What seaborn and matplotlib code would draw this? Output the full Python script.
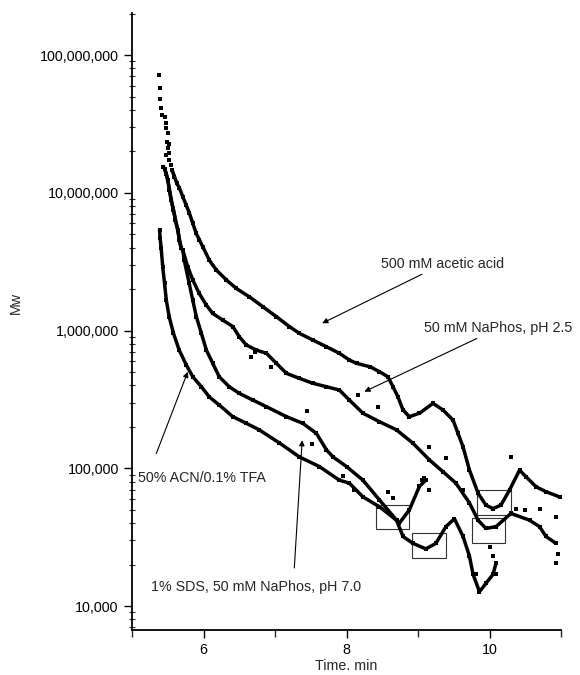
import numpy as np
import pandas as pd
import seaborn as sns
import matplotlib.pyplot as plt
from matplotlib.patches import Rectangle
from matplotlib.ticker import FuncFormatter, LogLocator, MultipleLocator

# values (time in min, Mw in g/mol)
acetic_time = [5.375, 5.385, 5.394, 5.408, 5.422, 5.459, 5.469, 5.478, 5.497, 5.492, 5.515, 5.501,
               5.524, 5.478, 5.515, 5.548, 5.562, 5.594, 5.627, 5.664, 5.711, 5.758, 5.804, 5.850,
               5.898, 5.944, 5.990, 6.08, 6.18, 6.32, 6.46, 6.64, 6.83, 7.02, 7.20, 7.34, 7.53,
               7.72, 7.90, 8.04, 8.14, 8.33, 8.46, 8.58, 8.65, 8.72, 8.79, 8.88, 9.02, 9.21, 9.35,
               9.49, 9.56, 9.63, 9.72, 9.84, 9.95, 10.05, 10.16, 10.28, 10.42, 10.51, 10.65, 10.79, 10.98]
acetic_mw = [71.6e6, 57.3e6, 47.6e6, 41.0e6, 36.7e6, 35.6e6, 31.9e6, 29.4e6, 27.0e6, 23.5e6, 22.6e6, 21.0e6,
             19.3e6, 18.8e6, 17.3e6, 15.9e6, 14.6e6, 13.1e6, 11.7e6, 10.8e6, 9.35e6, 8.14e6, 7.09e6, 6.0e6,
             5.08e6, 4.54e6, 4.06e6, 3.25e6, 2.75e6, 2.33e6, 2.02e6, 1.76e6, 1.49e6, 1.26e6, 1.07e6, 955e3, 853e3,
             763e3, 684e3, 611e3, 578e3, 546e3, 503e3, 462e3, 391e3, 330e3, 265e3, 237e3, 251e3, 296e3, 265e3,
             224e3, 179e3, 143e3, 97e3, 66e3, 54e3, 51e3, 54e3, 69.5e3, 97e3, 86.9e3, 73.5e3, 67.6e3, 62e3]

naphos25_time = [5.43, 5.455, 5.478, 5.50, 5.524, 5.548, 5.58, 5.608, 5.64, 5.664, 5.688, 5.71, 5.78,
                 5.85, 5.94, 6.04, 6.13, 6.27, 6.41, 6.50, 6.60, 6.74, 6.88, 7.02, 7.16, 7.34, 7.53,
                 7.72, 7.90, 8.04, 8.23, 8.46, 8.70, 8.93, 9.16, 9.35, 9.53, 9.72, 9.84, 9.95, 10.09,
                 10.30, 10.56, 10.70, 10.79, 10.93]
naphos25_mw = [15.5e6, 15.0e6, 13.8e6, 12.4e6, 10.5e6, 8.86e6, 7.5e6, 6.34e6, 5.37e6, 4.54e6, 3.95e6, 3.84e6, 2.9e6,
               2.33e6, 1.86e6, 1.53e6, 1.33e6, 1.19e6, 1.07e6, 902e3, 785e3, 721e3, 684e3, 578e3, 489e3, 450e3, 414e3,
               391e3, 370e3, 313e3, 251e3, 218e3, 190e3, 152e3, 115e3, 94.4e3, 78e3, 56e3, 42e3, 36.6e3, 37.7e3,
               47e3, 42e3, 37.7e3, 32e3, 28.5e3]

sds_time = [5.43, 5.455, 5.478, 5.50, 5.524, 5.548, 5.58, 5.608, 5.64, 5.664, 5.688, 5.71, 5.73, 5.80,
            5.85, 5.90, 5.97, 6.04, 6.13, 6.22, 6.36, 6.50, 6.69, 6.88, 7.16, 7.39, 7.58, 7.72, 7.81,
            8.0, 8.23, 8.46, 8.70, 8.74, 8.88, 9.02, 9.11]
sds_mw = [15.5e6, 15.0e6, 13.8e6, 12.4e6, 10.5e6, 8.86e6, 7.5e6, 6.34e6, 5.37e6, 4.54e6, 3.95e6, 3.84e6, 3.25e6, 2.2e6,
          1.66e6, 1.26e6, 955e3, 721e3, 578e3, 462e3, 391e3, 350e3, 313e3, 280e3, 237e3, 212e3, 179e3, 136e3, 121e3,
          103e3, 82e3, 59e3, 42e3, 40e3, 50e3, 74e3, 82e3]

acn_time = [5.385, 5.394, 5.408, 5.43, 5.455, 5.48, 5.52, 5.58, 5.66, 5.76, 5.85, 5.97, 6.08, 6.22,
            6.41, 6.60, 6.78, 7.06, 7.34, 7.62, 7.90, 8.04, 8.23, 8.46, 8.70, 8.79, 8.93, 9.11, 9.25,
            9.39, 9.51, 9.63, 9.72, 9.77, 9.86, 9.95, 10.05, 10.09]
acn_mw = [5.37e6, 4.67e6, 3.95e6, 2.9e6, 2.2e6, 1.66e6, 1.26e6, 955e3, 721e3, 562e3, 462e3, 391e3, 330e3, 288e3,
          237e3, 212e3, 190e3, 153e3, 121e3, 103e3, 82e3, 78e3, 62e3, 52.6e3, 42e3, 32e3, 28.5e3, 26e3, 28.5e3,
          37.7e3, 43e3, 32e3, 23e3, 17e3, 12.7e3, 14.6e3, 17e3, 20.4e3]

# stray points scattered around the traces
stray_time = [8.16, 8.44, 8.58, 8.65, 9.06, 9.09, 9.15, 9.16, 9.39, 9.63, 10.30, 10.37, 10.49, 10.70,
              10.93, 10.96, 10.93, 10.0, 10.05, 9.81, 10.09, 6.66, 6.72, 6.95, 7.45, 7.52, 7.95, 8.1]
stray_mw = [340e3, 280e3, 67.6e3, 60.5e3, 82e3, 85e3, 70e3, 143e3, 118e3, 69.5e3, 121e3, 51e3, 50e3, 51e3,
            44.5e3, 24e3, 20.6e3, 27e3, 23e3, 17e3, 17e3, 640e3, 700e3, 540e3, 260e3, 150e3, 88e3, 70e3]

series = {
    'acetic': (acetic_time, acetic_mw),
    'naphos25': (naphos25_time, naphos25_mw),
    'sds': (sds_time, sds_mw),
    'acn': (acn_time, acn_mw),
}
df = pd.concat([pd.DataFrame({'time': t, 'mw': m, 'series': k}) for k, (t, m) in series.items()],
               ignore_index=True)
stray_df = pd.DataFrame({'time': stray_time, 'mw': stray_mw})

##########################################################################################

sns.set_style('ticks')
plt.rcParams['font.family'] = ['Liberation Sans', 'DejaVu Sans']
plt.rcParams['font.size'] = 10.3

fig = plt.figure(figsize=(5.8, 6.75), dpi=100)
ax = fig.add_axes([132 / 580, 45 / 675, 429 / 580, 617 / 675])

# the first acetic acid points are sparse dots, no continuous trace
line_df = df[~((df['series'] == 'acetic') & (df['time'] < 5.55))]
sns.lineplot(data=line_df, x='time', y='mw', units='series', estimator=None, sort=False,
             color='black', lw=2.5, ax=ax, legend=False)
sns.scatterplot(data=df, x='time', y='mw', color='black', marker='s', s=7, linewidth=0, ax=ax, legend=False)
sns.scatterplot(data=stray_df, x='time', y='mw', color='black', marker='s', s=7, linewidth=0, ax=ax,
                legend=False)

ax.set_yscale('log')
ax.set_xlim(5, 11.0)
ax.set_ylim(6700, 2.02e8)
ax.xaxis.set_major_locator(MultipleLocator(2))
ax.xaxis.set_minor_locator(MultipleLocator(1))
ax.yaxis.set_major_locator(LogLocator(base=10, numticks=12))
ax.yaxis.set_minor_locator(LogLocator(base=10, subs=np.arange(2, 10), numticks=12))
ax.yaxis.set_major_formatter(FuncFormatter(lambda v, p: f'{int(round(v)):,}'))
ax.tick_params(axis='both', which='major', direction='out', length=6, width=1, colors='black', labelsize=10.3)
ax.tick_params(axis='y', which='minor', direction='inout', length=4, width=0.8)
ax.tick_params(axis='x', which='minor', direction='out', length=5, width=1)
for side in ['left', 'bottom']:
    ax.spines[side].set_linewidth(1.3)
    ax.spines[side].set_color('black')
sns.despine(ax=ax)

ax.set_xlabel('Time. min', fontsize=10.3, labelpad=1)
ax.set_ylabel('Mw', fontsize=10.3)
ax.yaxis.set_label_coords(-0.255, 0.53)

arrow = dict(arrowstyle='-|>', lw=0.8, color='black', mutation_scale=8, shrinkA=0, shrinkB=0)
ax.annotate('500 mM acetic acid', xy=(7.66, 1.13e6), xytext=(8.485, 3.04e6),
            va='center', ha='left', arrowprops=arrow)
ax.annotate('50 mM NaPhos, pH 2.5', xy=(8.25, 360e3), xytext=(9.09, 1.04e6),
            va='center', ha='left', arrowprops=arrow)
ax.annotate('', xy=(5.78, 502e3), xytext=(5.34, 128e3), arrowprops=arrow)
ax.text(5.09, 84.6e3, '50% ACN/0.1% TFA', va='center', ha='left')
ax.annotate('', xy=(7.38, 160e3), xytext=(7.27, 18.9e3), arrowprops=arrow)
ax.text(5.27, 13.8e3, '1% SDS, 50 mM NaPhos, pH 7.0', va='center', ha='left')

# boxes around the minima
for x0, x1, y0, y1 in [(8.41, 8.88, 36e3, 54e3), (8.91, 9.39, 22.4e3, 33.7e3),
                       (9.83, 10.30, 45.7e3, 69.5e3), (9.75, 10.22, 28.5e3, 43.3e3)]:
    ax.add_patch(Rectangle((x0, y0), x1 - x0, y1 - y0, fill=False, lw=0.8, ec='#333333'))

plt.savefig('out.png', dpi=100)
